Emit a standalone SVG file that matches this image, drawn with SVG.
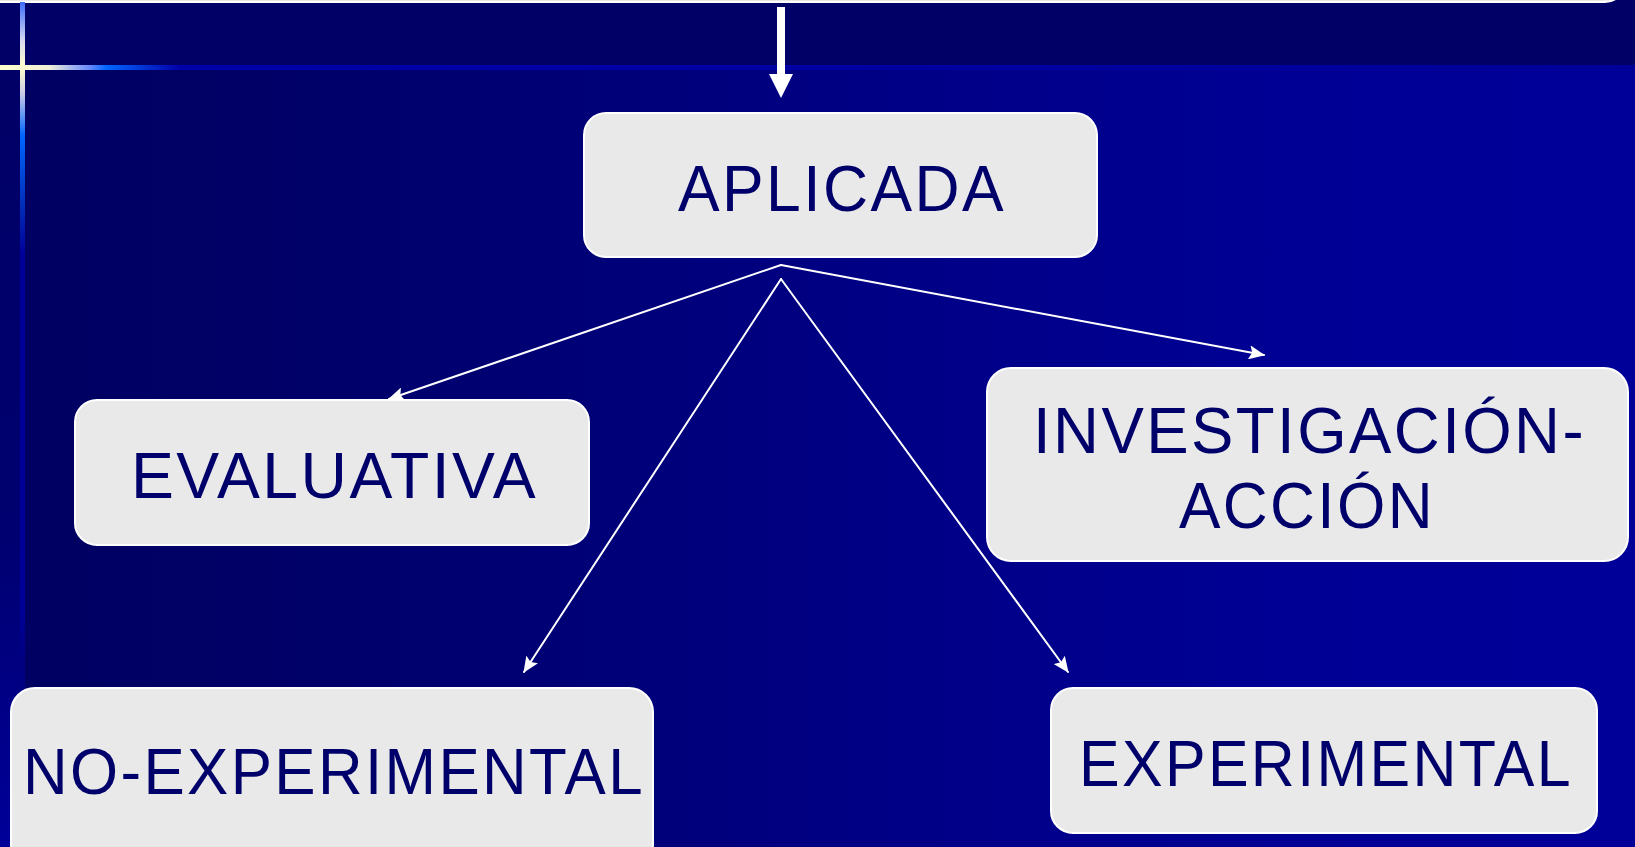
<svg xmlns="http://www.w3.org/2000/svg" width="1635" height="847" viewBox="0 0 1635 847">
<defs>
<linearGradient id="bgLow" x1="0" y1="0" x2="1635" y2="0" gradientUnits="userSpaceOnUse">
<stop offset="0" stop-color="#000062"/>
<stop offset="0.15" stop-color="#000066"/>
<stop offset="0.55" stop-color="#000086"/>
<stop offset="0.8" stop-color="#000095"/>
<stop offset="1" stop-color="#000099"/>
</linearGradient>
<linearGradient id="leftStrip" x1="0" y1="67" x2="0" y2="847" gradientUnits="userSpaceOnUse">
<stop offset="0" stop-color="#000066"/>
<stop offset="0.6" stop-color="#000070"/>
<stop offset="1" stop-color="#000099"/>
</linearGradient>
<linearGradient id="vline" x1="0" y1="0" x2="0" y2="847" gradientUnits="userSpaceOnUse">
<stop offset="0" stop-color="#3366ff"/>
<stop offset="0.05" stop-color="#ddddee"/>
<stop offset="0.08" stop-color="#ffffcc"/>
<stop offset="0.11" stop-color="#cccce8"/>
<stop offset="0.16" stop-color="#0066ff"/>
<stop offset="0.24" stop-color="#0030bb"/>
<stop offset="0.3" stop-color="#000099"/>
<stop offset="0.72" stop-color="#000099"/>
<stop offset="0.78" stop-color="#000080"/>
<stop offset="1" stop-color="#000099"/>
</linearGradient>
<linearGradient id="hline" x1="0" y1="0" x2="1635" y2="0" gradientUnits="userSpaceOnUse">
<stop offset="0" stop-color="#ffffcc"/>
<stop offset="0.03" stop-color="#f0f0d8"/>
<stop offset="0.055" stop-color="#6688ff"/>
<stop offset="0.065" stop-color="#0066ff"/>
<stop offset="0.11" stop-color="#0000aa"/>
<stop offset="1" stop-color="#000099"/>
</linearGradient>
<marker id="ah" markerWidth="16" markerHeight="14" refX="15" refY="7" orient="auto" markerUnits="userSpaceOnUse">
<path d="M0,0 L16,7 L0,14 L3,7 Z" fill="#ffffff"/>
</marker>
</defs>
<style>
.box { fill: #e9e9e9; stroke: #ffffff; stroke-width: 2; }
.lbl { font-family: "Liberation Sans", Arial, sans-serif; font-size: 65px; fill: #00006b; letter-spacing: 2.5px; }
.conn { stroke: #ffffff; stroke-width: 2; fill: none; stroke-linecap: round; marker-end: url(#ah); }
</style>
<!-- background -->
<rect x="0" y="0" width="1635" height="847" fill="#000066"/>
<rect x="0" y="67" width="1635" height="780" fill="url(#bgLow)"/>
<rect x="0" y="67" width="22" height="780" fill="url(#leftStrip)"/>
<rect x="-30" y="-120" width="1655" height="122" rx="20" fill="#e8e8e8" stroke="#ffffff" stroke-width="2"/>
<rect x="20" y="2" width="5" height="845" fill="url(#vline)"/>
<rect x="0" y="65" width="1635" height="5" fill="url(#hline)"/>

<g id="connectors">
<path d="M777,7 H785 V74 H793 L781,98 L769,74 H777 Z" fill="#ffffff"/>
<path class="conn" d="M781,265 L389,399"/>
<path class="conn" d="M781,265 L1264,355"/>
<path class="conn" d="M781,279 L524,672"/>
<path class="conn" d="M781,279 L1068,672"/>
</g>

<g id="aplicada">
<rect class="box" x="584" y="113" width="513" height="144" rx="22"/>
<text class="lbl" x="678" y="211" textLength="328" lengthAdjust="spacingAndGlyphs">APLICADA</text>
</g>
<g id="evaluativa">
<rect class="box" x="75" y="400" width="514" height="145" rx="22"/>
<text class="lbl" x="131" y="498" textLength="407" lengthAdjust="spacingAndGlyphs">EVALUATIVA</text>
</g>
<g id="investigacion-accion">
<rect class="box" x="987" y="368" width="641" height="193" rx="24"/>
<text class="lbl" x="1033" y="453" textLength="553" lengthAdjust="spacingAndGlyphs">INVESTIGACIÓN-</text>
<text class="lbl" x="1179" y="528" textLength="256" lengthAdjust="spacingAndGlyphs">ACCIÓN</text>
</g>
<g id="no-experimental">
<rect class="box" x="11" y="688" width="642" height="180" rx="24"/>
<text class="lbl" x="23" y="794" textLength="622" lengthAdjust="spacingAndGlyphs">NO-EXPERIMENTAL</text>
</g>
<g id="experimental">
<rect class="box" x="1051" y="688" width="546" height="145" rx="22"/>
<text class="lbl" x="1079" y="786" textLength="494" lengthAdjust="spacingAndGlyphs">EXPERIMENTAL</text>
</g>
</svg>
